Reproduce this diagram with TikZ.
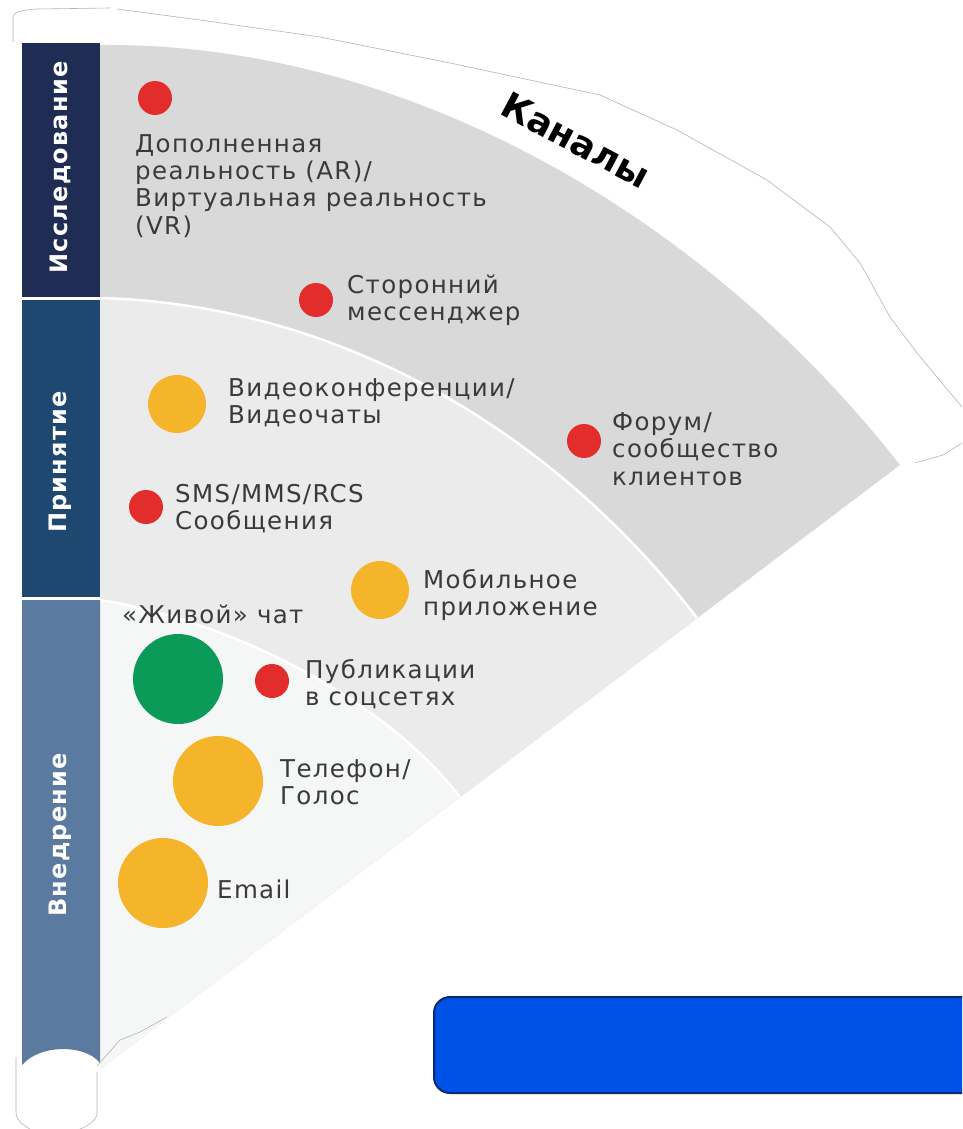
\documentclass[tikz,border=0pt]{standalone}
\usepackage{fontspec}
\setmainfont{DejaVu Sans}
\newfontfamily\bodyfont[LetterSpace=5.5]{DejaVu Sans}
\newfontfamily\stagefont[LetterSpace=5]{DejaVu Sans}
\definecolor{txt}{HTML}{3A3A3A}
\definecolor{bandA}{HTML}{D9D9D9}
\definecolor{bandB}{HTML}{EBEBEB}
\definecolor{bandC}{HTML}{F5F6F6}
\definecolor{stripA}{HTML}{1F2D54}
\definecolor{stripB}{HTML}{1E4870}
\definecolor{stripC}{HTML}{5B7AA0}
\definecolor{dotred}{HTML}{E32C2C}
\definecolor{dotyel}{HTML}{F5B52B}
\definecolor{dotgrn}{HTML}{0B9A57}
\definecolor{boxblue}{HTML}{0052E6}
\definecolor{boxedge}{HTML}{0B2A74}
\definecolor{trace}{HTML}{B4B4B4}
\newcommand\lblfont{\bodyfont\fontsize{24.5}{27.5}\selectfont}
\newcommand\Lines[1]{\begin{tabular}[t]{@{}l@{}}#1\end{tabular}}
\begin{document}
\begin{tikzpicture}[x=1pt,y=-1pt,
  lbl/.style={anchor=base west, inner sep=0pt, text=txt, font=\lblfont},
  dot/.style={circle, inner sep=0pt, minimum size=#1},
  small/.style={dot=34pt, fill=dotred},
  mid/.style={dot=58pt, fill=dotyel},
  big/.style={dot=90pt, fill=dotyel},
  stagelbl/.style={rotate=90, text=white, font=\stagefont\fontsize{24}{26}\bfseries\selectfont, inner sep=0pt},
  sep/.style={white, line width=2.5pt},
  tracel/.style={trace, line width=0.6pt}]
\clip (0,0) rectangle (962,1129);
\fill[white] (0,0) rectangle (962,1129);

% fan bands, outermost first; all share the straight lower edge
\coordinate (hub) at (100,1069);
\fill[bandA] (100,45) .. controls (400,42) and (700,210) .. (900,465) -- (hub) -- cycle;
\fill[bandB] (100,298) .. controls (350,305) and (560,440) .. (697,618) -- (hub) -- cycle;
\fill[bandC] (100,600) .. controls (235,622) and (385,700) .. (460,797) -- (hub) -- cycle;
\draw[sep] (100,298) .. controls (350,305) and (560,440) .. (697,618);
\draw[sep] (100,600) .. controls (235,622) and (385,700) .. (460,797);

% stage strip
\fill[stripA] (22,43) rectangle (100,297);
\fill[stripB] (22,300) rectangle (100,597);
\fill[stripC] (22,600) -- (100,600) -- (100,1063)
  .. controls (85,1044) and (40,1044) .. (22,1065) -- cycle;
\node[stagelbl] (s1) at (60,167) {Исследование};
\node[stagelbl] (s2) at (60,462) {Принятие};
\node[stagelbl] (s3) at (60,835) {Внедрение};

% faint cut-out traces
\draw[tracel] (13,42) -- (13,17) .. controls (13,12) and (22,10) .. (37,9) -- (110,8);
\draw[tracel] (117,9) -- (200,20) -- (320,37) -- (450,63) -- (600,95) -- (677,130)
  -- (767,180) -- (830,227) -- (860,263) -- (890,317) -- (917,353) -- (962,407);
\draw[tracel] (915,463) -- (943,455) -- (962,443);
\draw[tracel] (16,1057) -- (16,1112) .. controls (16,1120) and (24,1126) .. (30,1129);
\draw[tracel] (97,1072) -- (97,1113) .. controls (97,1120) and (88,1126) .. (80,1129);
\draw[tracel] (97,1066) -- (120,1040) -- (140,1032) -- (167,1017);

% title
\node[rotate=-28, font=\fontsize{36}{38}\bfseries\selectfont, inner sep=0pt] (title) at (576,140) {Каналы};

% channels
\node[small] (ar) at (155,98) {};
\node[lbl] (arl) at (135,152) {\Lines{Дополненная\\реальность (AR)/\\Виртуальная реальность\\(VR)}};
\node[small] (msg) at (316,300) {};
\node[lbl] (msgl) at (347,293) {\Lines{Сторонний\\мессенджер}};
\node[small] (forum) at (584,441) {};
\node[lbl] (foruml) at (612,430) {\Lines{Форум/\\сообщество\\клиентов}};
\node[mid] (video) at (177,404) {};
\node[lbl] (videol) at (228,396) {\Lines{Видеоконференции/\\Видеочаты}};
\node[small] (sms) at (146,507) {};
\node[lbl] (smsl) at (175,502) {\Lines{SMS/MMS/RCS\\Сообщения}};
\node[mid] (app) at (380,590) {};
\node[lbl] (appl) at (423,588) {\Lines{Мобильное\\приложение}};
\node[lbl] (chatl) at (122,623) {«Живой» чат};
\node[big, fill=dotgrn] (chat) at (178,679) {};
\node[small] (soc) at (272,681) {};
\node[lbl] (socl) at (305,678) {\Lines{Публикации\\в соцсетях}};
\node[big] (phone) at (218,781) {};
\node[lbl] (phonel) at (280,777) {\Lines{Телефон/\\Голос}};
\node[big] (mail) at (163,883) {};
\node[lbl] (maill) at (217,898) {Email};

% button
\draw[fill=boxblue, draw=boxedge, line width=2pt, rounded corners=16pt] (434,997) rectangle (990,1093);
\end{tikzpicture}
\end{document}
